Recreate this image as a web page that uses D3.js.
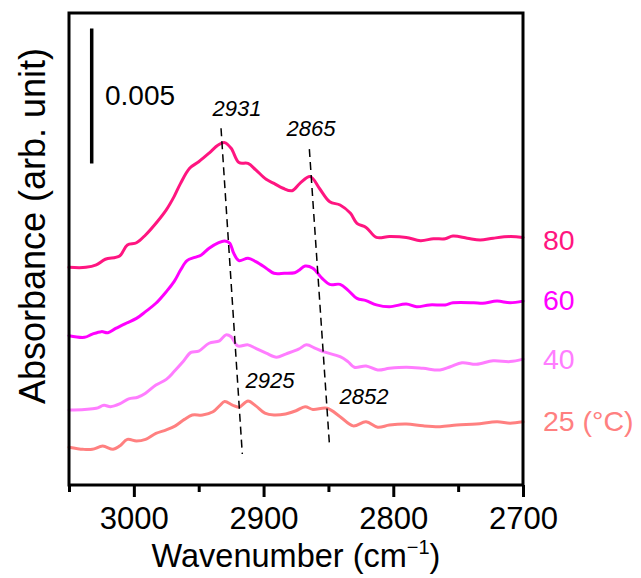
<!DOCTYPE html>
<html>
<head>
<meta charset="utf-8">
<script src="https://cdn.jsdelivr.net/npm/d3@7"></script>
<style>
  html, body { margin: 0; padding: 0; background: #fff; }
  svg { display: block; font-family: "Liberation Sans", Arial, sans-serif; }
</style>
</head>
<body>
<svg id="chart" width="641" height="578"></svg>
<script>
// FTIR C–H stretching region, spectra stacked by temperature.
// Absorbance values are in units of 1e-3 and include the stacking offset.
const wn80  = [3050,3037,3029,3022,3011,3005,2998,2991,2982,2975,2969,2964,2957,2950,2942,2935,2930,2925,2919,2912,2906,2898,2892,2885,2878,2872,2864,2857,2849,2841,2833,2828,2821,2813,2803,2790,2779,2769,2760,2754,2743,2733,2723,2710,2700];
const abs80 = [8.06,8.06,8.15,8.36,8.48,8.89,8.97,9.26,9.75,10.19,10.68,11.17,11.73,11.97,12.29,12.59,12.68,12.47,11.94,11.91,11.67,11.32,11.17,10.99,10.90,11.17,11.42,10.99,10.49,10.37,10.06,9.69,9.54,9.17,9.20,9.17,9.05,9.12,9.12,9.22,9.14,9.07,9.14,9.20,9.17];

const wn60  = [3050,3038,3032,3025,3020,3014,3006,2998,2991,2983,2975,2969,2964,2959,2953,2948,2942,2935,2930,2926,2923,2919,2912,2906,2898,2892,2884,2876,2873,2868,2862,2855,2849,2841,2835,2828,2821,2813,2803,2790,2782,2772,2760,2754,2738,2731,2720,2710,2700];
const abs60 = [5.53,5.47,5.59,5.68,5.64,5.80,5.99,6.17,6.42,6.73,7.16,7.53,7.96,8.31,8.43,8.52,8.77,8.97,9.04,8.95,8.58,8.31,8.40,8.27,8.03,7.84,7.84,7.86,7.94,8.11,8.03,7.66,7.43,7.43,7.22,6.91,6.83,6.67,6.60,6.70,6.60,6.67,6.67,6.75,6.75,6.73,6.81,6.75,6.81];

const wn40  = [3050,3038,3029,3023,3018,3011,3004,2997,2991,2983,2975,2969,2962,2956,2950,2942,2934,2929,2925,2920,2912,2906,2898,2890,2883,2873,2867,2860,2854,2841,2835,2830,2821,2812,2803,2790,2777,2764,2756,2747,2736,2723,2710,2700];
const abs40 = [2.78,2.80,2.84,2.95,2.90,3.00,3.19,3.25,3.40,3.70,3.91,4.20,4.57,4.91,4.96,5.25,5.34,5.56,5.49,5.15,5.19,5.06,4.88,4.73,4.85,5.03,5.19,5.06,4.94,4.75,4.57,4.36,4.41,4.26,4.32,4.36,4.32,4.26,4.38,4.53,4.47,4.60,4.57,4.66];

const wn25  = [3050,3039,3032,3024,3016,3011,3005,2998,2991,2983,2975,2968,2961,2955,2947,2939,2934,2930,2924,2919,2912,2906,2899,2892,2883,2875,2868,2862,2851,2841,2831,2821,2812,2803,2790,2777,2764,2751,2736,2720,2710,2700];
const abs25 = [1.40,1.32,1.32,1.44,1.32,1.44,1.69,1.63,1.69,1.91,2.04,2.19,2.43,2.59,2.59,2.71,2.93,3.09,2.96,2.88,3.11,2.93,2.66,2.59,2.63,2.75,2.90,2.80,2.84,2.53,2.19,2.34,2.14,2.22,2.26,2.19,2.16,2.22,2.26,2.34,2.29,2.34];

const temperatures = ["80", "60", "40", "25 (°C)"];
const seriesColors = ["#ff1580", "#ff00ff", "#ff7dff", "#ff8080"];

const majorTicks = [3000, 2900, 2800, 2700];
const minorTicks = [3050, 2950, 2850, 2750];
const xDomain = [3050, 2700];
const yDomain = [0, 17.48];

// scale bar: 0.005 absorbance (5 in 1e-3 units)
const scaleBarValue = 0.005;
const scaleBarAt = { wn: 3032.5, base: 11.91 };

// peak guide lines (wavenumber, absorbance) pairs
const guides = [
  { top: [2932.8, 13.21], bottom: [2916.4, 1.15] },
  { top: [2864.7, 12.44], bottom: [2849.3, 1.56] }
];
const peakLabels = [
  { text: "2931", wn: 2920.5, y: 13.67 },
  { text: "2865", wn: 2863.4, y: 12.93 },
  { text: "2925", wn: 2895.0, y: 3.59 },
  { text: "2852", wn: 2822.6, y: 3.00 }
];

const svg = d3.select("#chart");
const plotLeft = 69, plotRight = 523, plotTop = 13, plotBottom = 485;

const x = d3.scaleLinear().domain(xDomain).range([plotLeft, plotRight]);
const y = d3.scaleLinear().domain(yDomain).range([plotBottom, plotTop]);

const series = [
  { wn: wn80, a: abs80 },
  { wn: wn60, a: abs60 },
  { wn: wn40, a: abs40 },
  { wn: wn25, a: abs25 }
];

const line = d3.line()
  .x(d => x(d[0]))
  .y(d => y(d[1]))
  .curve(d3.curveCatmullRom.alpha(0.5));

// spectra
series.forEach((s, i) => {
  const pts = s.wn.map((w, k) => [w, s.a[k]]);
  svg.append("path")
    .attr("d", line(pts))
    .attr("fill", "none")
    .attr("stroke", seriesColors[i])
    .attr("stroke-width", 3)
    .attr("stroke-linejoin", "round")
    .attr("stroke-linecap", "round");
});

// dashed peak guides
guides.forEach(g => {
  svg.append("line")
    .attr("x1", x(g.top[0])).attr("y1", y(g.top[1]))
    .attr("x2", x(g.bottom[0])).attr("y2", y(g.bottom[1]))
    .attr("stroke", "#000")
    .attr("stroke-width", 1.5)
    .attr("stroke-dasharray", "8,5");
});

peakLabels.forEach(p => {
  svg.append("text")
    .attr("x", x(p.wn)).attr("y", y(p.y))
    .attr("text-anchor", "middle")
    .attr("font-size", 22)
    .attr("font-style", "italic")
    .attr("fill", "#000")
    .text(p.text);
});

// scale bar
svg.append("line")
  .attr("x1", x(scaleBarAt.wn)).attr("x2", x(scaleBarAt.wn))
  .attr("y1", y(scaleBarAt.base)).attr("y2", y(scaleBarAt.base + scaleBarValue * 1000))
  .attr("stroke", "#000")
  .attr("stroke-width", 3.5);
svg.append("text")
  .attr("x", 105).attr("y", 105)
  .attr("font-size", 28)
  .attr("fill", "#000")
  .text(scaleBarValue.toString());

// axes
const xAxis = d3.axisBottom(x).tickValues(majorTicks).tickSize(12).tickFormat(d3.format("d"));
const gx = svg.append("g").attr("transform", `translate(0,${plotBottom})`).call(xAxis);
gx.select(".domain").remove();
gx.selectAll(".tick line").attr("stroke", "#000").attr("stroke-width", 3);
gx.selectAll(".tick text")
  .attr("font-size", 31)
  .attr("font-family", "Liberation Sans, Arial, sans-serif")
  .attr("fill", "#000")
  .attr("dy", null)
  .attr("y", 44);

const xMinor = d3.axisBottom(x).tickValues(minorTicks).tickSize(7).tickFormat("");
const gm = svg.append("g").attr("transform", `translate(0,${plotBottom})`).call(xMinor);
gm.select(".domain").remove();
gm.selectAll(".tick line").attr("stroke", "#000").attr("stroke-width", 3);

// frame
svg.append("rect")
  .attr("x", plotLeft).attr("y", plotTop)
  .attr("width", plotRight - plotLeft).attr("height", plotBottom - plotTop)
  .attr("fill", "none")
  .attr("stroke", "#000")
  .attr("stroke-width", 3);

// temperature labels
const labelY = [250, 310, 369, 431];
temperatures.forEach((t, i) => {
  svg.append("text")
    .attr("x", 543).attr("y", labelY[i])
    .attr("font-size", 28.5)
    .attr("fill", seriesColors[i])
    .text(t);
});

// axis titles
const xt = svg.append("text")
  .attr("x", (plotLeft + plotRight) / 2).attr("y", 567)
  .attr("text-anchor", "middle")
  .attr("font-size", 32.5)
  .attr("fill", "#000");
xt.append("tspan").text("Wavenumber (cm");
xt.append("tspan").attr("font-size", 20).attr("dy", -13).text("\u22121");
xt.append("tspan").attr("dy", 13).text(")");

svg.append("text")
  .attr("transform", `translate(45,226) rotate(-90)`)
  .attr("text-anchor", "middle")
  .attr("font-size", 36)
  .attr("fill", "#000")
  .text("Absorbance (arb. unit)");
</script>
</body>
</html>
